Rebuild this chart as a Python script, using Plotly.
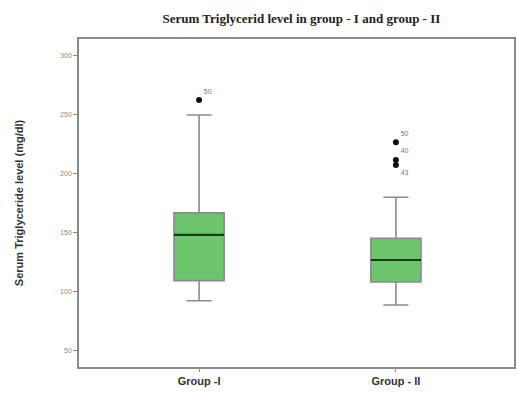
import plotly.graph_objects as go

# Summary statistics of serum triglyceride (mg/dl) per group
groups = ["Group -I", "Group - II"]
q1 = [109.6, 108.5]
median = [148.3, 127.1]
q3 = [167.0, 145.5]
lower_fence = [92.6, 89.0]
upper_fence = [250.0, 180.3]

# Outliers (value, case label) per group
outlier_values = [[262.7], [226.9, 211.9, 207.6]]
outlier_labels = [["50"], ["50", "40", "43"]]
label_positions = [["top right"], ["top right", "top right", "bottom right"]]

y_ticks = [50, 100, 150, 200, 250, 300]

positions = list(range(len(groups)))
box_width = 0.255
fill = "#6cc46c"

fig = go.Figure()

for i, pos in enumerate(positions):
    fig.add_trace(go.Box(
        x=[pos],
        q1=[q1[i]], median=[median[i]], q3=[q3[i]],
        lowerfence=[lower_fence[i]], upperfence=[upper_fence[i]],
        width=box_width,
        whiskerwidth=0.5,
        fillcolor=fill,
        line=dict(color="#8a8a8a", width=1.6),
        hoverinfo="skip",
        showlegend=False,
    ))
    # dark median bar
    fig.add_trace(go.Scatter(
        x=[pos - box_width / 2, pos + box_width / 2],
        y=[median[i], median[i]],
        mode="lines",
        line=dict(color="#1d3a1d", width=2.2),
        hoverinfo="skip",
        showlegend=False,
    ))
    # outliers with case labels
    fig.add_trace(go.Scatter(
        x=[pos] * len(outlier_values[i]),
        y=outlier_values[i],
        mode="markers+text",
        marker=dict(color="#111111", size=6),
        text=outlier_labels[i],
        textposition=label_positions[i],
        textfont=dict(family="Liberation Sans, Arial", size=7, color="#777777"),
        cliponaxis=False,
        hoverinfo="skip",
        showlegend=False,
    ))

fig.update_layout(
    width=517, height=393,
    margin=dict(l=79, r=1, t=39, b=26),
    paper_bgcolor="white",
    plot_bgcolor="white",
    title=dict(
        text="<b>Serum Triglycerid level in group - I and group - II</b>",
        font=dict(family="Liberation Serif, Times New Roman", size=13, color="#222222"),
        x=0.583, xanchor="center", y=0.952, yanchor="middle",
    ),
    xaxis=dict(
        range=[-0.61, 1.60],
        tickvals=positions,
        ticktext=[f"<b>{g}</b>" for g in groups],
        tickfont=dict(family="Liberation Sans, Arial", size=11, color="#333333"),
        ticks="outside", ticklen=3, tickcolor="#888888",
        showline=True, linecolor="#8a8a8a", linewidth=2, mirror=True,
        showgrid=False, zeroline=False,
    ),
    yaxis=dict(
        range=[36.4, 314.4],
        tickvals=y_ticks,
        tickfont=dict(family="Liberation Sans, Arial", size=7, color="#888888"),
        ticks="outside", ticklen=4, tickcolor="#888888",
        showline=True, linecolor="#8a8a8a", linewidth=1.6, mirror=True,
        showgrid=False, zeroline=False,
        title=dict(
            text="<b>Serum Triglyceride level (mg/dl)</b>",
            font=dict(family="Liberation Sans, Arial", size=11, color="#333333"),
            standoff=34,
        ),
    ),
)

fig.write_html("out.html")
